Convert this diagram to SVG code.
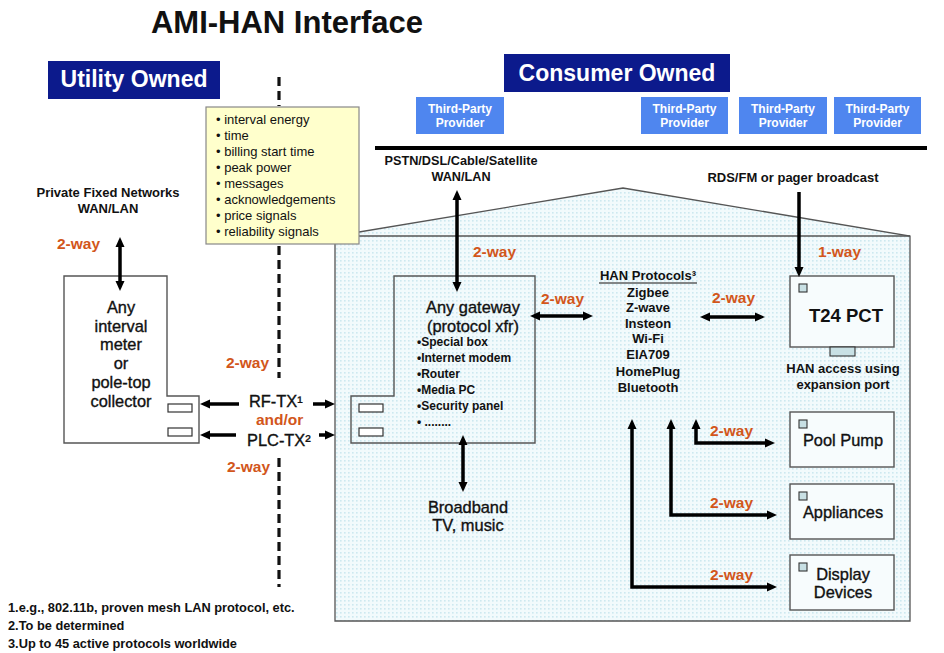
<svg xmlns="http://www.w3.org/2000/svg" width="944" height="653" viewBox="0 0 944 653">
<defs>
<style>
text{font-family:"Liberation Sans",Arial,sans-serif;fill:#111}
.b{font-weight:bold}
.mid{text-anchor:middle}
.org{fill:#d2561b;font-weight:bold;font-size:15.5px}
.big{font-size:16.4px;stroke:#111;stroke-width:0.35}
.box{fill:none;stroke:#555;stroke-width:1.4}
.wbox{fill:#f7fcfd;stroke:#555;stroke-width:1.4}
.port{fill:#fff;stroke:#333;stroke-width:1.2}
.led{fill:#c8e0e4;stroke:#333;stroke-width:1.1}
.tpp{fill:#4f86ef}
.tppt{fill:#fff;font-weight:bold;font-size:12px;text-anchor:middle}
.own{fill:#0c1a8c}
.ownt{fill:#fff;font-weight:bold;font-size:23px;text-anchor:middle}
.arr{fill:none;stroke:#000;stroke-width:3.5}
</style>
<pattern id="dots" width="4" height="4" patternUnits="userSpaceOnUse">
<rect width="4" height="4" fill="#f2fafc"/>
<rect width="1.6" height="1.6" fill="#cde8f0"/>
</pattern>
<marker id="ah" viewBox="0 0 10 10" refX="1" refY="5" markerWidth="10" markerHeight="10" markerUnits="userSpaceOnUse" orient="auto-start-reverse">
<path d="M0,0.5 L10,5 L0,9.5 z" fill="#000"/>
</marker>
</defs>

<text class="b mid" x="287" y="33" font-size="31">AMI-HAN Interface</text>

<g id="utility-owned">
<rect class="own" x="48" y="61" width="172" height="38"/>
<text class="ownt" x="134" y="87">Utility Owned</text>
</g>
<g id="consumer-owned">
<rect class="own" x="504" y="54" width="226" height="38"/>
<text class="ownt" x="617" y="81">Consumer Owned</text>
</g>

<g id="tpp1"><rect class="tpp" x="416" y="97" width="88" height="37"/><text class="tppt" x="460" y="113">Third-Party</text><text class="tppt" x="460" y="127">Provider</text></g>
<g id="tpp2"><rect class="tpp" x="641" y="97" width="87" height="37"/><text class="tppt" x="684.5" y="113">Third-Party</text><text class="tppt" x="684.5" y="127">Provider</text></g>
<g id="tpp3"><rect class="tpp" x="739" y="97" width="88" height="37"/><text class="tppt" x="783" y="113">Third-Party</text><text class="tppt" x="783" y="127">Provider</text></g>
<g id="tpp4"><rect class="tpp" x="834" y="97" width="87" height="37"/><text class="tppt" x="877.5" y="113">Third-Party</text><text class="tppt" x="877.5" y="127">Provider</text></g>

<line x1="375" y1="148" x2="927" y2="148" stroke="#000" stroke-width="4"/>

<g id="house">
<polygon points="335,236 623,188 910,236 910,621 335,621" fill="url(#dots)" stroke="#555" stroke-width="1.3"/>
<line x1="335" y1="236" x2="910" y2="236" stroke="#555" stroke-width="1.3"/>
</g>

<g id="boundary">
<g stroke="#111" stroke-width="3.2" stroke-dasharray="9,5">
<line x1="279" y1="77" x2="279" y2="106"/>
<line x1="279" y1="246" x2="279" y2="378"/>
<line x1="279" y1="458" x2="279" y2="587"/>
</g>
</g>

<g id="data-list">
<rect x="206" y="107" width="153" height="137" fill="#ffffcc" stroke="#888" stroke-width="1.2"/>
<g font-size="13">
<text x="216" y="124">• interval energy</text>
<text x="216" y="140">• time</text>
<text x="216" y="156">• billing start time</text>
<text x="216" y="172">• peak power</text>
<text x="216" y="188">• messages</text>
<text x="216" y="204">• acknowledgements</text>
<text x="216" y="220">• price signals</text>
<text x="216" y="236">• reliability signals</text>
</g>
</g>

<g id="private-networks">
<text class="b mid" x="108" y="197" font-size="13">Private Fixed Networks</text>
<text class="b mid" x="108" y="213" font-size="13">WAN/LAN</text>
</g>

<g id="meter">
<polygon class="wbox" points="64,276 167,276 167,396 199,396 199,443 64,443" style="fill:#fff"/>
<rect class="port" x="168" y="404" width="24" height="8"/>
<rect class="port" x="168" y="428" width="24" height="8"/>
<g class="big mid">
<text x="121" y="313">Any</text>
<text x="121" y="332">interval</text>
<text x="121" y="350">meter</text>
<text x="121" y="369">or</text>
<text x="121" y="388">pole-top</text>
<text x="121" y="407">collector</text>
</g>
</g>

<g id="wan-label">
<text class="b mid" x="461" y="165" font-size="12.7">PSTN/DSL/Cable/Satellite</text>
<text class="b mid" x="461" y="181" font-size="12.7">WAN/LAN</text>
</g>

<g id="rds-label">
<text class="b mid" x="793" y="182" font-size="13">RDS/FM or pager broadcast</text>
</g>

<g id="gateway">
<polygon class="box" points="394,276 535,276 535,443 351,443 351,396 394,396"/>
<rect class="port" x="359" y="404" width="24" height="8"/>
<rect class="port" x="359" y="428" width="24" height="8"/>
<text class="big mid" x="473" y="313">Any gateway</text>
<text class="big mid" x="473" y="332">(protocol xfr)</text>
<g class="b" font-size="12">
<text x="417" y="346">•Special box</text>
<text x="417" y="362">•Internet modem</text>
<text x="417" y="378">•Router</text>
<text x="417" y="394">•Media PC</text>
<text x="417" y="410">•Security panel</text>
<text x="417" y="426">• ........</text>
</g>
</g>

<g id="broadband">
<text class="big mid" x="468" y="513">Broadband</text>
<text class="big mid" x="468" y="531">TV, music</text>
</g>

<g id="han-protocols">
<text class="b mid" x="648" y="280" font-size="13">HAN Protocols³</text>
<line x1="599" y1="283" x2="697" y2="283" stroke="#111" stroke-width="1"/>
<g class="b mid" font-size="13">
<text x="648" y="297">Zigbee</text>
<text x="648" y="312">Z-wave</text>
<text x="648" y="328">Insteon</text>
<text x="648" y="343">Wi-Fi</text>
<text x="648" y="359">EIA709</text>
<text x="648" y="376">HomePlug</text>
<text x="648" y="392">Bluetooth</text>
</g>
</g>

<g id="t24-pct">
<rect class="wbox" x="790" y="276" width="104" height="71"/>
<rect class="led" x="799" y="284" width="8" height="8"/>
<rect class="led" x="830" y="347" width="25" height="9"/>
<text class="b mid" x="846" y="322" font-size="18.5">T24 PCT</text>
<text class="b mid" x="843" y="373" font-size="13">HAN access using</text>
<text class="b mid" x="843" y="389" font-size="13">expansion port</text>
</g>

<g id="pool-pump">
<rect class="wbox" x="790" y="412" width="104" height="55"/>
<rect class="led" x="799" y="420" width="8" height="8"/>
<text class="big mid" x="843" y="446">Pool Pump</text>
</g>

<g id="appliances">
<rect class="wbox" x="790" y="484" width="104" height="55"/>
<rect class="led" x="799" y="492" width="8" height="8"/>
<text class="big mid" x="843" y="518">Appliances</text>
</g>

<g id="display-devices">
<rect class="wbox" x="790" y="555" width="104" height="55"/>
<rect class="led" x="799" y="563" width="8" height="8"/>
<text class="big mid" x="843" y="580">Display</text>
<text class="big mid" x="843" y="598">Devices</text>
</g>

<g id="connectors">
<line class="arr" x1="120" y1="246" x2="120" y2="282" marker-start="url(#ah)" marker-end="url(#ah)"/>
<line class="arr" x1="239" y1="404" x2="209" y2="404" marker-end="url(#ah)"/>
<line class="arr" x1="236" y1="435" x2="209" y2="435" marker-end="url(#ah)"/>
<line class="arr" x1="313" y1="404" x2="326" y2="404" marker-end="url(#ah)"/>
<line class="arr" x1="319" y1="435" x2="326" y2="435" marker-end="url(#ah)"/>
<line class="arr" x1="457" y1="199" x2="457" y2="283" marker-start="url(#ah)" marker-end="url(#ah)"/>
<line class="arr" x1="539" y1="316" x2="584" y2="316" marker-start="url(#ah)" marker-end="url(#ah)"/>
<line class="arr" x1="709" y1="317" x2="756" y2="317" marker-start="url(#ah)" marker-end="url(#ah)"/>
<line class="arr" x1="463" y1="444" x2="463" y2="483" marker-start="url(#ah)" marker-end="url(#ah)"/>
<line class="arr" x1="799" y1="192" x2="799" y2="268" marker-end="url(#ah)"/>
<polyline class="arr" points="632,428 632,587 768,587" marker-start="url(#ah)" marker-end="url(#ah)"/>
<polyline class="arr" points="671,428 671,515 768,515" marker-start="url(#ah)" marker-end="url(#ah)"/>
<polyline class="arr" points="696,428 696,443 766,443" marker-start="url(#ah)" marker-end="url(#ah)"/>

<text class="org" x="57" y="249">2-way</text>
<text class="org" x="226" y="368">2-way</text>
<text class="big" x="249" y="407">RF-TX¹</text>
<text class="org" x="256" y="425">and/or</text>
<text class="big" x="247" y="446">PLC-TX²</text>
<text class="org" x="227" y="472">2-way</text>
<text class="org" x="473" y="257">2-way</text>
<text class="org" x="541" y="304">2-way</text>
<text class="org" x="712" y="303">2-way</text>
<text class="org" x="818" y="257">1-way</text>
<text class="org" x="710" y="436">2-way</text>
<text class="org" x="710" y="508">2-way</text>
<text class="org" x="710" y="580">2-way</text>
</g>

<g id="footnotes" class="b" font-size="12.8">
<text x="8" y="612">1.e.g., 802.11b, proven mesh LAN protocol, etc.</text>
<text x="8" y="630">2.To be determined</text>
<text x="8" y="648">3.Up to 45 active protocols worldwide</text>
</g>
</svg>
